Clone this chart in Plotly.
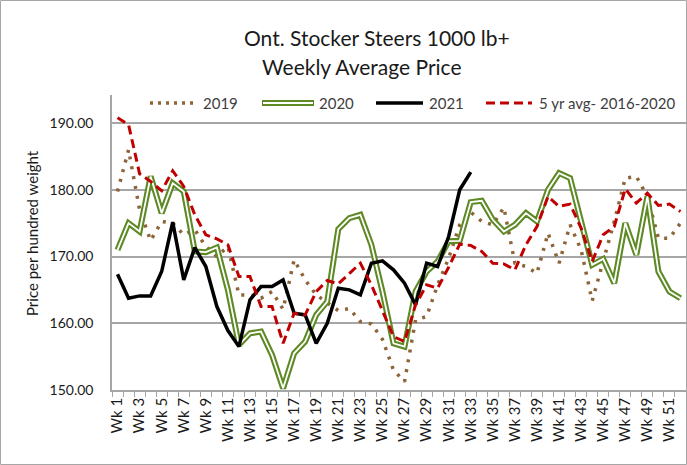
import plotly.graph_objects as go

weeks = [f"Wk {i}" for i in range(1, 53)]

y2019 = [179.75, 186.0, 177.0, 172.4, 175.25, 175.0, 173.25, 174.0, 171.5, 170.0,
         171.5, 164.25, 164.25, 163.75, 164.75, 162.1, 169.5, 166.5, 164.25, 163.0,
         161.9, 162.2, 160.25, 159.9, 157.6, 153.0, 151.25, 160.5, 161.0, 165.75,
         169.75, 174.75, 176.65, 175.25, 174.75, 177.35, 169.0, 168.5, 167.5, 173.5,
         169.0, 174.75, 171.0, 163.35, 169.25, 175.25, 181.75, 182.0, 179.0, 172.75,
         172.75, 175.0]

y2020 = [171.0, 175.0, 173.75, 182.0, 176.5, 181.0, 179.75, 170.75, 170.65, 171.35,
         165.0, 156.75, 158.5, 158.75, 155.25, 150.25, 155.5, 157.25, 161.25, 163.25,
         174.1, 175.75, 176.25, 171.75, 164.75, 157.0, 156.5, 164.75, 167.75, 169.25,
         172.3, 172.35, 178.15, 178.35, 175.5, 173.75, 174.75, 176.5, 175.25, 180.0,
         182.5, 181.75, 175.25, 168.75, 169.65, 166.0, 175.0, 170.25, 179.0, 167.75,
         164.75, 163.75]

y2021 = [167.35, 163.75, 164.1, 164.1, 167.75, 175.15, 166.5, 171.35, 168.5, 162.5,
         158.9, 156.5, 163.5, 165.5, 165.5, 166.5, 161.5, 161.25, 157.0, 160.0,
         165.25, 165.0, 164.25, 169.0, 169.35, 168.0, 166.0, 162.75, 169.0, 168.5,
         173.0, 180.0, 182.65] + [None] * 19

y5yr = [190.8, 189.75, 182.4, 181.25, 179.85, 182.85, 180.5, 176.25, 173.25, 172.65,
        171.75, 167.0, 167.0, 162.5, 162.5, 157.0, 161.5, 161.25, 164.75, 166.4,
        165.9, 167.5, 169.0, 165.75, 161.75, 158.0, 157.25, 162.75, 165.75, 165.25,
        168.4, 171.85, 171.65, 170.75, 169.0, 168.9, 168.0, 171.75, 174.5, 179.0,
        177.5, 177.85, 174.25, 169.25, 173.25, 174.5, 180.15, 178.0, 179.5, 177.65,
        177.85, 176.75]

ytick_vals = [150, 160, 170, 180, 190]
xtick_text = [w if i % 2 == 0 else "" for i, w in enumerate(weeks)]

title_line1 = "Ont. Stocker Steers 1000 lb+"
title_line2 = "Weekly Average Price"
y_title = "Price per hundred weight"
names = ["2019", "2020", "2021", "5 yr avg- 2016-2020"]

BROWN = "#8C6437"
GREEN = "#5E8A26"
BLACK = "#000000"
RED = "#C00000"
FONT = "Lato"

W, H = 687, 465
L, R, T, B = 112, 1, 95, 75
PW, PH = W - L - R, H - T - B


def px(x):
    return (x - L) / PW


def py(y):
    return (H - B - y) / PH


fig = go.Figure()
fig.add_trace(go.Scatter(x=weeks, y=y2019, mode="lines", name=names[0],
                         line=dict(color=BROWN, width=3.5, dash="3px,7px"), showlegend=False))
fig.add_trace(go.Scatter(x=weeks, y=y2020, mode="lines", name=names[1],
                         line=dict(color=GREEN, width=6), showlegend=False))
fig.add_trace(go.Scatter(x=weeks, y=y2020, mode="lines", name=names[1] + " inner",
                         line=dict(color="white", width=1.8), showlegend=False, hoverinfo="skip"))
fig.add_trace(go.Scatter(x=weeks, y=y2021, mode="lines", name=names[2],
                         line=dict(color=BLACK, width=3.5), showlegend=False))
fig.add_trace(go.Scatter(x=weeks, y=y5yr, mode="lines", name=names[3],
                         line=dict(color=RED, width=3, dash="9px,5px"), showlegend=False))

shapes = []
annotations = []

# outer border
shapes.append(dict(type="rect", xref="paper", yref="paper",
                   x0=px(0.5), x1=px(W - 0.5), y0=py(H - 0.5), y1=py(0.5),
                   line=dict(color="#A6A6A6", width=1), layer="below"))

# manual legend
LY = py(103)
leg = [
    (150, 197, dict(color=BROWN, width=3.5, dash="3px,5px"), 201, names[0]),
    (262, 314, dict(color=GREEN, width=6), 317, names[1]),
    (376, 423, dict(color=BLACK, width=3.5), 427, names[2]),
    (486, 532, dict(color=RED, width=3, dash="9px,5px"), 537, names[3]),
]
for x0, x1, ln, tx, txt in leg:
    shapes.append(dict(type="line", xref="paper", yref="paper", x0=px(x0), x1=px(x1),
                       y0=LY, y1=LY, line=ln))
    if txt == names[1]:
        shapes.append(dict(type="line", xref="paper", yref="paper", x0=px(x0 + 1), x1=px(x1 - 1),
                           y0=LY, y1=LY, line=dict(color="white", width=1.8)))
    annotations.append(dict(text=txt, xref="paper", yref="paper", x=px(tx), y=LY,
                            xanchor="left", yanchor="middle", showarrow=False,
                            font=dict(family=FONT, size=15, color="#404040")))

annotations.append(dict(text=title_line1, xref="paper", yref="paper", x=px(377), y=py(37),
                        xanchor="center", yanchor="middle", showarrow=False,
                        font=dict(family=FONT, size=21, color="#1a1a1a")))
annotations.append(dict(text=title_line2, xref="paper", yref="paper", x=px(362), y=py(67),
                        xanchor="center", yanchor="middle", showarrow=False,
                        font=dict(family=FONT, size=21, color="#1a1a1a")))
annotations.append(dict(text=y_title, xref="paper", yref="paper", x=px(32), y=py(233),
                        xanchor="center", yanchor="middle", showarrow=False, textangle=-90,
                        font=dict(family=FONT, size=15, color="#1a1a1a")))

fig.update_layout(
    width=W, height=H,
    margin=dict(l=L, r=R, t=T, b=B, pad=0),
    paper_bgcolor="white", plot_bgcolor="white",
    showlegend=False,
    shapes=shapes, annotations=annotations,
    font=dict(family=FONT, color="#1a1a1a"),
)
fig.update_xaxes(type="category", categoryorder="array", categoryarray=weeks,
                 tickmode="array", tickvals=weeks, ticktext=xtick_text,
                 tickson="boundaries", ticks="outside", ticklen=5, tickcolor="#A6A6A6",
                 tickangle=-90, tickfont=dict(family=FONT, size=15, color="#1a1a1a"),
                 showline=True, linecolor="#A6A6A6", linewidth=1.5, automargin=False,
                 showgrid=False, zeroline=False, range=[-0.5, 51.5])
fig.update_yaxes(range=[150, 194.2], tickmode="array", tickvals=ytick_vals,
                 tickformat=".2f", tickfont=dict(family=FONT, size=14, color="#1a1a1a"),
                 ticklabelstandoff=14, automargin=False,
                 showline=True, linecolor="#A6A6A6", linewidth=1.5,
                 showgrid=True, gridcolor="#A6A6A6", gridwidth=1.5, zeroline=False)

fig.write_html("out.html", config={"displayModeBar": False},
               post_script="document.body.style.margin='0';document.body.style.padding='0';")
